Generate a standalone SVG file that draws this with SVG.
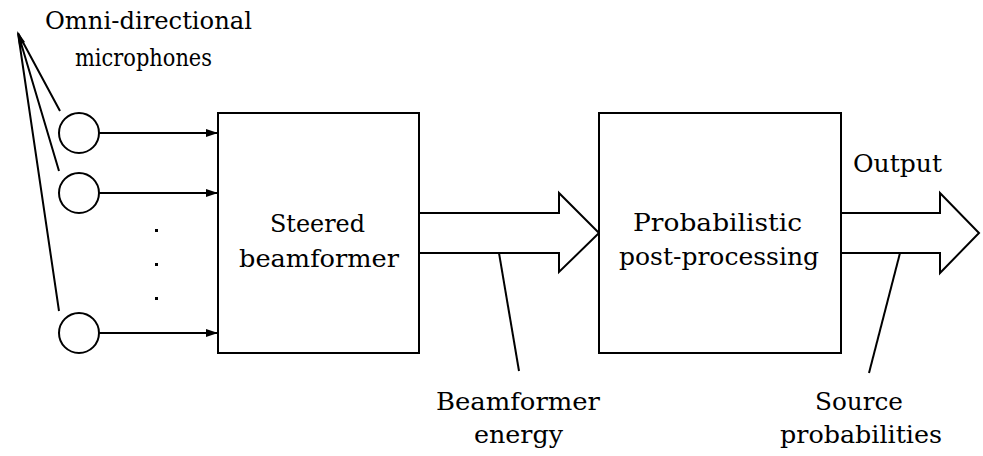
<svg xmlns="http://www.w3.org/2000/svg" width="983" height="456" viewBox="0 0 983 456">
<defs>
<style>
.ln{stroke:#000;stroke-width:2;fill:none}
.bx{stroke:#000;stroke-width:2;fill:#fff}
.tx{font-family:"DejaVu Serif","Liberation Serif",serif;font-size:24px;fill:#000}
</style>
<marker id="ah" markerWidth="12" markerHeight="8" refX="12" refY="4" orient="auto" markerUnits="userSpaceOnUse">
<path d="M0,0 L12,4 L0,8 Z" fill="#000"/>
</marker>
</defs>
<rect width="983" height="456" fill="#fff"/>
<text class="tx" x="45" y="29" textLength="207" lengthAdjust="spacingAndGlyphs">Omni-directional</text>
<text class="tx" x="75" y="66" textLength="137" lengthAdjust="spacingAndGlyphs">microphones</text>
<g id="connectors">
<path class="ln" d="M60,111 L18,33 M59,171 L18,33 M59,311 L18,33"/>
<path d="M17,31 L25,42 L19,45 Z" fill="#000"/>
<line class="ln" x1="99" y1="133" x2="218" y2="133" marker-end="url(#ah)"/>
<line class="ln" x1="99" y1="193" x2="218" y2="193" marker-end="url(#ah)"/>
<line class="ln" x1="99" y1="333" x2="218" y2="333" marker-end="url(#ah)"/>
<path class="bx" d="M419,213 L559,213 L559,193 L599,233 L559,272 L559,253 L419,253"/>
<path class="bx" d="M841,213 L940,213 L940,193 L979,233 L940,273 L940,253 L841,253"/>
<line class="ln" x1="499" y1="253" x2="519" y2="371"/>
<line class="ln" x1="900" y1="253" x2="869" y2="373"/>
</g>
<g id="mic1"><circle class="ln" cx="79" cy="133" r="20"/></g>
<g id="mic2"><circle class="ln" cx="79" cy="193" r="20"/></g>
<g id="mic3"><circle class="ln" cx="79" cy="333" r="20"/></g>
<g id="dots"><rect x="155" y="229" width="3" height="3"/><rect x="155" y="263" width="3" height="3"/><rect x="155" y="297" width="3" height="3"/></g>
<g id="beamformer">
<rect class="bx" x="218" y="113" width="201" height="240"/>
<text class="tx" x="270" y="232" textLength="95" lengthAdjust="spacingAndGlyphs">Steered</text>
<text class="tx" x="239" y="267" textLength="160" lengthAdjust="spacingAndGlyphs">beamformer</text>
</g>
<g id="postproc">
<rect class="bx" x="599" y="113" width="242" height="240"/>
<text class="tx" x="633" y="231" textLength="169" lengthAdjust="spacingAndGlyphs">Probabilistic</text>
<text class="tx" x="619" y="265" textLength="200" lengthAdjust="spacingAndGlyphs">post-processing</text>
</g>
<text class="tx" x="853" y="172" textLength="89" lengthAdjust="spacingAndGlyphs">Output</text>
<text class="tx" x="436" y="410" textLength="164" lengthAdjust="spacingAndGlyphs">Beamformer</text>
<text class="tx" x="474" y="443" textLength="89" lengthAdjust="spacingAndGlyphs">energy</text>
<text class="tx" x="815" y="410" textLength="88" lengthAdjust="spacingAndGlyphs">Source</text>
<text class="tx" x="780" y="443" textLength="162" lengthAdjust="spacingAndGlyphs">probabilities</text>
</svg>
